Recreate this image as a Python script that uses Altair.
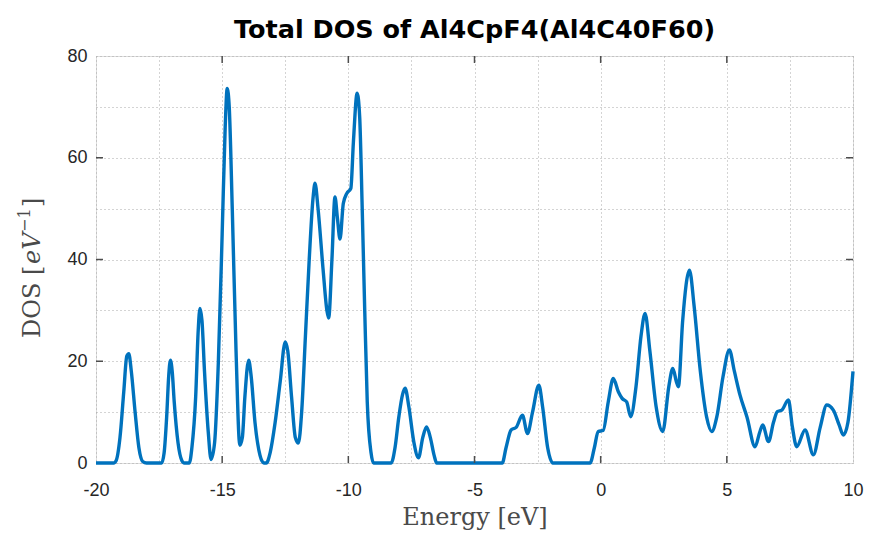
import altair as alt
import pandas as pd

# Energy (eV) and total DOS (1/eV)
energy = [-20, -19.3, -19.2, -19.05, -18.9, -18.78, -18.7, -18.6, -18.45, -18.3, -18.15, -18.0,
          -17.4, -17.3, -17.2, -17.12, -17.05, -16.98, -16.9, -16.75, -16.6, -16.5,
          -16.3, -16.2, -16.05, -15.95, -15.88, -15.8, -15.7, -15.55, -15.44,
          -15.3, -15.15, -15.0, -14.88, -14.8, -14.72, -14.6, -14.45, -14.3,
          -14.2, -14.1, -13.95, -13.85, -13.7, -13.5, -13.35, -13.25,
          -13.1, -12.9, -12.7, -12.5, -12.4, -12.25, -12.1, -11.98,
          -11.85, -11.7, -11.55, -11.4, -11.32, -11.2, -11.0, -10.85, -10.78,
          -10.65, -10.53, -10.43, -10.33, -10.2, -10.06, -9.9, -9.8, -9.65, -9.55,
          -9.45, -9.35, -9.25, -9.1, -9.0,
          -8.3, -8.15, -8.0, -7.85, -7.75, -7.6, -7.4, -7.22, -7.05, -6.9, -6.75, -6.6, -6.5,
          -3.9, -3.75, -3.55, -3.35, -3.1, -2.9, -2.7, -2.45, -2.3, -2.1, -1.9,
          -0.42, -0.25, -0.1, 0.1, 0.3, 0.5, 0.7, 0.85, 1.03, 1.19, 1.4, 1.6, 1.76,
          1.95, 2.2, 2.46, 2.7, 2.86, 3.0, 3.08, 3.25, 3.52, 3.7, 3.95, 4.2, 4.4,
          4.6, 4.85, 5.1, 5.3, 5.52, 5.8, 6.12, 6.3, 6.42, 6.65, 6.85, 7.0, 7.18,
          7.44, 7.6, 7.77, 8.1, 8.43, 8.7, 8.96, 9.22, 9.45, 9.62, 9.8, 10.0]
dos = [0, 0, 0.5, 5, 14, 21, 21.5, 18, 10, 3, 0.3, 0,
       0, 2, 9, 17, 20.2, 18, 12, 4, 0.5, 0,
       0, 3, 13, 26, 30.4, 28, 18, 6, 0.7,
       4, 20, 45, 66, 73.6, 70, 50, 22, 3.5,
       5, 13, 20.2, 17, 8, 1.5, 0, 0,
       2, 8, 16, 23.8, 22, 13, 5, 3.9,
       10, 25, 40, 52, 55, 50, 38, 30, 28.5,
       40, 52.3, 48, 44, 51, 53, 54, 63, 72.7, 68,
       50, 30, 12, 2, 0,
       0, 3, 9, 13.5, 14.7, 11, 4, 1, 5, 7.1, 5, 1.5, 0,
       0, 3, 6.5, 7, 9.4, 5.8, 10, 15.3, 11, 3, 0,
       0, 3, 6.2, 6.4, 12, 16.6, 14, 12.7, 12, 9.1, 15, 25, 29.4,
       22, 11, 6.2, 15, 18.6, 16, 15, 28, 37.9, 31, 18, 9, 6.2,
       9, 17, 22.2, 18, 13.4, 9, 3.2, 6, 7.5, 4.2, 8, 10.1, 10.4,
       12.4, 7, 3.2, 6.5, 1.6, 7, 11.4, 10.4, 7.5, 5.5, 8, 18]

x_ticks = [-20, -15, -10, -5, 0, 5, 10]
y_ticks = [0, 20, 40, 60, 80]
x_grid = [-20, -18.75, -17.5, -16.25, -15, -13.75, -12.5, -11.25, -10, -8.75, -7.5, -6.25,
          -5, -3.75, -2.5, -1.25, 0, 1.25, 2.5, 3.75, 5, 6.25, 7.5, 8.75, 10]
y_grid = [0, 10, 20, 30, 40, 50, 60, 70, 80]

df = pd.DataFrame({"Energy": energy, "DOS": dos})
xt = pd.DataFrame({"t": x_ticks[1:-1]})
yt = pd.DataFrame({"t": y_ticks[1:-1]})

W, H = 757, 407
xscale = alt.Scale(domain=[-20, 10], nice=False, zero=False)
yscale = alt.Scale(domain=[0, 80], nice=False)

grid_kw = dict(grid=True, gridDash=[1, 3], gridColor="#a8a8a8", gridWidth=1, ticks=False, domain=False,
               labelFont="Liberation Sans", labelFontSize=18, labelColor="#262626",
               titleFont="DejaVu Serif", titleFontSize=24, titleFontWeight="normal", titleColor="#4a4a4a")

xaxis = alt.Axis(values=x_grid, labelExpr="datum.value % 5 == 0 ? '' + datum.value : ''",
                 labelPadding=18, title="Energy [eV]", titlePadding=6, labelFlush=False, **grid_kw)
yaxis = alt.Axis(values=y_grid, labelExpr="datum.value % 20 == 0 ? '' + datum.value : ''",
                 labelPadding=9, title=None, **grid_kw)

line = alt.Chart(df).mark_line(color="#0072BD", strokeWidth=3.4, interpolate="monotone").encode(
    x=alt.X("Energy:Q", scale=xscale, axis=xaxis),
    y=alt.Y("DOS:Q", scale=yscale, axis=yaxis),
)

tick_color = "#4d4d4d"
xb = alt.Chart(xt).mark_rule(color=tick_color, strokeWidth=1.5).encode(
    x=alt.X("t:Q", scale=xscale), y=alt.value(H), y2=alt.value(H - 7))
xtop = alt.Chart(xt).mark_rule(color=tick_color, strokeWidth=1.5).encode(
    x=alt.X("t:Q", scale=xscale), y=alt.value(0), y2=alt.value(7))
yl = alt.Chart(yt).mark_rule(color=tick_color, strokeWidth=1.5).encode(
    y=alt.Y("t:Q", scale=yscale), x=alt.value(0), x2=alt.value(7))
yr = alt.Chart(yt).mark_rule(color=tick_color, strokeWidth=1.5).encode(
    y=alt.Y("t:Q", scale=yscale), x=alt.value(W), x2=alt.value(W - 7))

# y-axis title built from pieces: "DOS [" + italic "eV" + superscript "−1" + "]"
tcol = "#4a4a4a"
base = alt.Chart(pd.DataFrame({"a": [0]}))
def piece(txt, y, x, size=24, style="normal"):
    return base.mark_text(text=txt, angle=270, align="left", baseline="alphabetic",
                          font="DejaVu Serif", fontSize=size, fontStyle=style, color=tcol).encode(
        x=alt.value(x), y=alt.value(y))

t1 = piece("DOS [", 282, -56)
t2 = piece("eV", 208, -56, style="italic")
t3 = piece("−1", 176, -66, size=16)
t4 = piece("]", 151, -56)

chart = alt.layer(line, xb, xtop, yl, yr, t1, t2, t3, t4).properties(
    width=W, height=H,
    title=alt.TitleParams("Total DOS of Al4CpF4(Al4C40F60)", font="DejaVu Sans", fontSize=25.5,
                          fontWeight="bold", color="#000000", anchor="middle", frame="group", offset=4),
    autosize=alt.AutoSizeParams(type="none"),
    padding={"left": 96, "top": 56, "right": 22, "bottom": 79},
).configure_view(stroke="#5a5a5a", strokeWidth=1.5).configure(background="white")

chart.save("out.html", embed_options={"renderer": "svg", "actions": False})
